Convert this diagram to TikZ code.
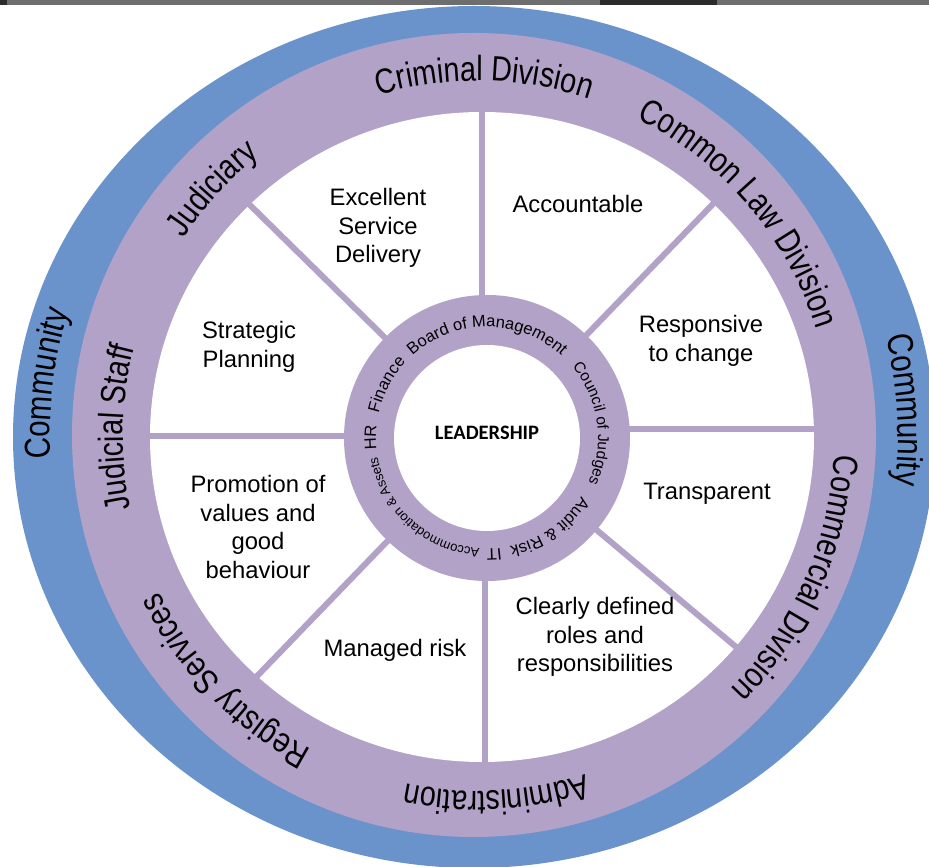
\documentclass[tikz,border=0pt]{standalone}
\usepackage{fontspec}
\setmainfont{Liberation Sans}
\newfontfamily\ringfam[FakeStretch=0.82]{Liberation Sans}
\newfontfamily\leadfam{Carlito}
\usetikzlibrary{decorations.text}
\definecolor{ringpurple}{RGB}{178,162,199}
\definecolor{commblue}{RGB}{106,147,204}
\definecolor{stripgray}{RGB}{110,110,110}
\definecolor{stripdark}{RGB}{43,43,43}
\newcommand{\ringfont}{\ringfam\fontsize{35}{35}\selectfont}
\newcommand{\commfont}{\ringfam\fontsize{36}{36}\selectfont}
\newcommand{\innerfont}{\fontsize{16.5}{16.5}\selectfont}
\newcommand{\midfont}{\fontsize{15.5}{15.5}\selectfont}
\newcommand{\tinyfont}{\fontsize{13}{13}\selectfont}
\newcommand{\sectorfont}{\fontsize{23.8}{28.7}\selectfont}
% #1 centre, #2 radius, #3 mid angle, #4 half span, #5 text (clockwise, tops outward)
\newcommand{\arclabel}[5]{%
  \path[decorate,decoration={text along path,text align=center,text={#5}}]
    ([shift={#1}]#3+#4:#2) arc[start angle=#3+#4, end angle=#3-#4, radius=#2];}
\tikzset{
  spoke/.style={draw=ringpurple, line width=6pt},
  sector/.style={font=\sectorfont, align=center, inner sep=0pt, text=black},
}
\begin{document}
\begin{tikzpicture}[x=1pt,y=1pt]
\useasboundingbox (0,0) rectangle (929,867);
\fill[white] (0,0) rectangle (929,867);
% scan strip at the top
\fill[stripgray] (0,862) rectangle (929,867);
\fill[stripdark] (600,862) rectangle (717,867);
\fill[stripdark] (0,862) rectangle (7,867);
% outer rings
\fill[commblue] (474,430) ellipse[x radius=461, y radius=431];
\fill[ringpurple] (474,432) circle[radius=402];
\fill[white] (482,430) ellipse[x radius=332, y radius=325];
% spokes
\coordinate (L) at (487,429);
\coordinate (C) at (478,431);
\draw[spoke] (482,560) -- (482,790);
\draw[spoke] (485,300) -- (485,60);
\draw[spoke] (120,431) -- (370,431);
\draw[spoke] (600,438) -- (840,438);
\foreach \a in {46,135.5,-40,226}
  \draw[spoke] ([shift={(L)}]\a:115) -- ([shift={(L)}]\a:365);
% leadership ring
\fill[ringpurple] (L) circle[radius=143];
\fill[white] (L) circle[radius=93];
\node[font=\leadfam\bfseries\fontsize{20.5}{20.5}\selectfont, inner sep=0pt] (lead) at (487,434) {LEADERSHIP};
% sector texts
\node[sector] (excellent) at (378,639) {Excellent\\Service\\Delivery};
\node[sector] (accountable) at (578,663) {Accountable};
\node[sector] (responsive) at (701,526) {Responsive\\to change};
\node[sector] (strategic) at (249,520) {Strategic\\Planning};
\node[sector] (transparent) at (707,373) {Transparent};
\node[sector] (promotion) at (258,340) {Promotion of\\values and\\good\\behaviour};
\node[sector] (clearly) at (595,230) {Clearly defined\\roles and\\responsibilities};
\node[sector] (managed) at (395,217) {Managed risk};
% outer ring labels
\arclabel{(478,431)}{355}{89}{60}{|\ringfont|Criminal Division}
\arclabel{(478,431)}{355}{40.5}{60}{|\ringfont|Common Law Division}
\arclabel{(478,431)}{357}{-24}{60}{|\ringfont|Commercial Division}
\arclabel{(478,431)}{355}{-87}{60}{|\ringfont|Administration}
\arclabel{(478,431)}{355}{224}{60}{|\ringfont|Registry Services}
\arclabel{(478,431)}{355}{178.7}{60}{|\ringfont|Judicial Staff}
\arclabel{(478,431)}{355}{137}{60}{|\ringfont|Judiciary}
\arclabel{(474,431)}{424}{173}{40}{|\commfont|Community}
\arclabel{(474,431)}{424}{3.5}{40}{|\commfont|Community}
% leadership ring labels
\arclabel{(487,429)}{111}{90}{70}{|\innerfont|Board of Management}
\arclabel{(487,429)}{111}{8}{60}{|\midfont|Council of Judges}
\arclabel{(487,429)}{111}{-55}{40}{|\innerfont|Audit {\&} Risk}
\arclabel{(487,429)}{111}{-86.5}{25}{|\innerfont|IT}
\arclabel{(487,429)}{111}{228}{60}{|\tinyfont|Accommodation {\&} Assets}
\arclabel{(487,429)}{111}{180}{25}{|\innerfont|HR}
\arclabel{(487,429)}{111}{152}{30}{|\innerfont|Finance}
\end{tikzpicture}
\end{document}
